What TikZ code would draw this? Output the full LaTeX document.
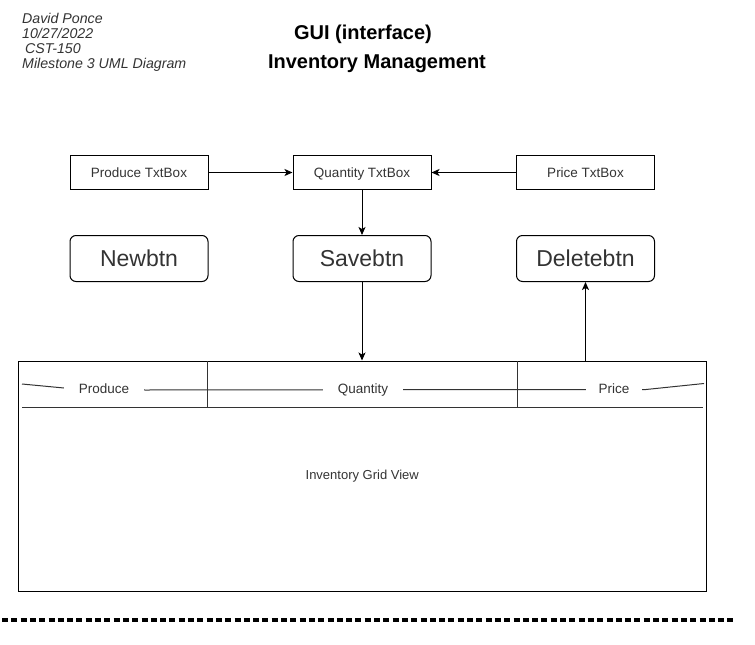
\documentclass[tikz,border=0pt]{standalone}
\usepackage{fontspec}
\setmainfont{Liberation Sans}
\usetikzlibrary{arrows.meta}
\definecolor{ink}{HTML}{333333}
\newcommand\txtbox[3]{%
\node[txtbox] (#1) at (#2) {#3};
}
\newcommand\guibtn[3]{%
\node[guibtn] (#1) at (#2) {#3};
}

\begin{document}
\begin{tikzpicture}[x=1pt,y=-1pt,
	txtbox/.style={draw,line width=1pt,minimum width=138pt,minimum height=34pt,inner sep=0pt,text height=10pt,text depth=1pt,font=\fontsize{13.5}{15}\selectfont,text=ink},
	guibtn/.style={draw,line width=1pt,rounded corners=6pt,minimum width=138pt,minimum height=46pt,inner sep=0pt,text height=17pt,text depth=1pt,font=\fontsize{23}{26}\selectfont,text=ink},
	colhead/.style={fill=white,inner xsep=15pt,inner ysep=1pt,text height=10pt,text depth=1pt,font=\fontsize{13.5}{15}\selectfont,text=ink},
	flow/.style={-{Stealth[length=8pt,width=7pt,inset=2pt]},line width=1pt}]
	%% page size
	\useasboundingbox (0,0) rectangle (755,645);
	
	\def\rowA{172.5} % text boxes
	\def\rowB{258.5} % buttons
	\def\hdr{407} % bottom of grid header
	
	% heading
	\node[anchor=west,align=left,inner sep=0pt,font=\fontsize{14.2}{15}\selectfont\itshape,text=ink] (author) at (22,42.5) {David Ponce\\10/27/2022\\\hspace{3pt}CST-150\\Milestone 3 UML Diagram};
	\node[font=\fontsize{20}{22}\selectfont\bfseries] (gui) at (363,34) {GUI (interface)};
	\node[font=\fontsize{20}{22}\selectfont\bfseries] (inv) at (377,64) {Inventory Management};
	
	\txtbox{prod}{139,\rowA}{Produce TxtBox}
	\txtbox{qty}{362,\rowA}{Quantity TxtBox}
	\txtbox{price}{585.5,\rowA}{Price TxtBox}
	
	\guibtn{new}{139,\rowB}{Newbtn}
	\guibtn{save}{362,\rowB}{Savebtn}
	\guibtn{delete}{585.5,\rowB}{Deletebtn}
	
	% grid view
	\node[draw,line width=1pt,minimum width=687.5pt,minimum height=230pt,inner sep=0pt,font=\fontsize{13}{15}\selectfont,text=ink] (grid) at (362.25,476) {Inventory Grid View};
	\draw[ink,line width=1pt] (22,384) -- (64,388) -- (145,390) -- (646,389.5) -- (704,383.5);
	\node[colhead] (colprod) at (104,389) {Produce};
	\node[colhead] (colqty) at (363,389) {Quantity};
	\node[colhead,inner xsep=13pt] (colprice) at (614,389) {Price};
	\draw[ink,line width=1pt] (22,\hdr) -- (703,\hdr);
	\draw[ink,line width=1pt] (207.5,361) -- (207.5,\hdr);
	\draw[ink,line width=1pt] (517,361) -- (517,\hdr);
	
	\draw[flow] (prod) -- (qty);
	\draw[flow] (price) -- (qty);
	\draw[flow] (qty) -- (save);
	\draw[flow] (save) -- (save |- grid.north);
	\draw[flow] (delete |- grid.north) -- (delete);
	
	%\draw[dashed] (0,619.5) -- (755,619.5);
	\draw[line width=4pt,dash pattern=on 6pt off 3.3pt] (2,619.5) -- (735,619.5);
\end{tikzpicture}
\end{document}
